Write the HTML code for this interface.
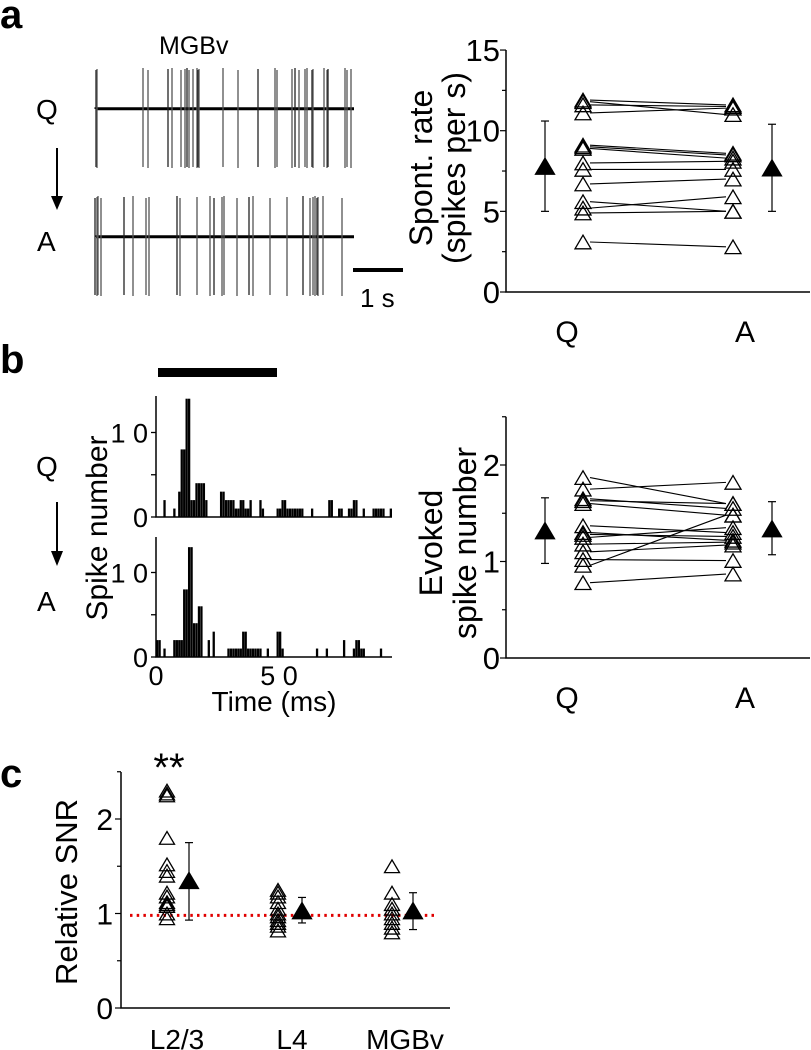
<!DOCTYPE html>
<html><head><meta charset="utf-8"><style>
body{margin:0;background:#fff}
svg{display:block;font-family:"Liberation Sans",Arial,sans-serif}
</style></head><body>
<svg id="fig" width="811" height="1050" viewBox="0 0 811 1050">
<text x="0" y="28" font-size="40" font-weight="bold">a</text>
<text x="0" y="373" font-size="40" font-weight="bold">b</text>
<text x="0" y="787" font-size="40" font-weight="bold">c</text>
<text x="159" y="54" font-size="25">MGBv</text>
<text x="36" y="119" font-size="28">Q</text>
<text x="37" y="251" font-size="28">A</text>
<line x1="57" y1="148" x2="57" y2="200" stroke="#000" stroke-width="2"/>
<polygon points="51,196 63,196 57,210" fill="#000"/>
<line x1="353" y1="270" x2="403" y2="270" stroke="#000" stroke-width="4"/>
<text x="360" y="307" font-size="26">1 s</text>
<text x="36" y="476" font-size="28">Q</text>
<text x="37" y="611" font-size="28">A</text>
<line x1="57" y1="502" x2="57" y2="555" stroke="#000" stroke-width="2"/>
<polygon points="51,551 63,551 57,566" fill="#000"/>
<rect x="158" y="368" width="119" height="9" fill="#000"/>
<g id="g"></g>
</svg>
<script>
// ===== data =====
const qSpikes=[96,97,143,148,168,172,181,185,187,189,193,197,198,199,223,238,258,275,277,292,295,299,305,307,312,313,324,327,328,345,347,351];
const aSpikes=[95,97,98,101,124,133,146,149,177,180,197,210,214,222,224,237,249,253,270,287,303,310,313,315,317,318,323,342];
const psthQms=[3,7,9,10,11,12,13,14,15,16,17,18,19,20,26,27,28,29,30,31,32,33,34,35,36,37,38,42,43,49,50,51,52,53,54,55,56,57,58,59,63,70,71,74,75,78,79,80,81,84,88,89,90,91,92,95];
const psthQcounts=[2,1,3,8,8,14,14,2,2,4,4,4,4,2,3,3,2,2,2,2,1,1,2,2,1,1,2,2,1,1,1,2,2,1,1,1,1,1,1,1,1,2,2,1,1,1,1,2,2,1,1,1,1,1,1,1];
const psthAms=[0,1,3,7,8,9,10,11,12,13,14,15,16,17,18,21,23,29,30,31,32,33,34,35,36,37,38,39,40,41,42,45,49,50,51,65,69,76,80,81,82,83,84,91];
const psthAcounts=[2,2,1,2,2,2,2,8,8,13,13,4,4,6,6,2,3,1,1,1,1,1,1,3,3,1,1,1,1,1,1,1,3,3,1,1,1,2,1,2,2,1,1,1];
const spontQ=[11.9,11.8,11.6,11.1,9.1,9.0,8.9,8.0,7.6,6.7,5.6,5.2,4.9,3.1];
const spontA=[11.6,11.0,11.5,11.4,8.6,8.5,8.3,8.1,7.6,7.0,5.0,5.9,5.0,2.8];
const spontMean=[7.8,7.7];
const spontErrLo=[5.0,5.0];
const spontErrHi=[10.6,10.4];
const evokedQ=[1.87,1.75,1.65,1.63,1.6,1.37,1.3,1.28,1.25,1.18,1.1,0.96,1.02,0.78];
const evokedA=[1.6,1.82,1.55,1.6,1.48,1.3,1.22,1.26,1.35,1.2,1.17,1.48,1.01,0.87];
const evokedMean=[1.32,1.34];
const evokedErrLo=[0.98,1.07];
const evokedErrHi=[1.66,1.62];
const snrGroups=["L2/3","L4","MGBv"];
const snrL23=[2.3,2.27,2.25,1.8,1.52,1.45,1.4,1.22,1.18,1.12,1.1,1.08,1.0,0.95];
const snrL4=[1.25,1.22,1.18,1.12,1.05,1.0,0.97,0.93,0.9,0.87,0.82];
const snrMGBv=[1.5,1.22,1.1,1.05,1.0,0.95,0.9,0.85,0.8];
const snrMean=[1.35,1.03,1.03];
const snrErrLo=[0.93,0.9,0.83];
const snrErrHi=[1.75,1.17,1.22];
const spontTicks=["0","5","10","15"];
const evokedTicks=["0","1","2"];
const snrTicks=["0","1","2"];
const psthTicks=["0","1 0"];
const timeTicks=["0","5 0"];
const snrRef=0.98;
// ===== drawing =====
const NS="http://www.w3.org/2000/svg";
const G=document.getElementById('g');
function el(t,a,p){const e=document.createElementNS(NS,t);for(const k in a)e.setAttribute(k,a[k]);(p||G).appendChild(e);return e;}
function txt(x,y,s,size,anchor,rot){const e=el('text',{x:x,y:y,'font-size':size,'text-anchor':anchor||'middle'});if(rot)e.setAttribute('transform','rotate(-90 '+x+' '+y+')');e.textContent=s;return e;}
function tri(cx,cy,w,fill){const h=w*0.85;return el('polygon',{points:(cx-w/2)+','+(cy+h/2)+' '+(cx+w/2)+','+(cy+h/2)+' '+cx+','+(cy-h/2),fill:fill?'#000':'#fff','fill-opacity':fill?1:0,stroke:'#000','stroke-width':1.3});}
function errbar(x,ylo,yhi){el('line',{x1:x,y1:ylo,x2:x,y2:yhi,stroke:'#000','stroke-width':1.2});el('line',{x1:x-4,y1:ylo,x2:x+4,y2:ylo,stroke:'#000','stroke-width':1.2});el('line',{x1:x-4,y1:yhi,x2:x+4,y2:yhi,stroke:'#000','stroke-width':1.2});}

// traces
function trace(sp,base,name){
  let d='M96,'+base;for(let x=96;x<=355;x+=3){d+=' L'+x+','+(base+((x*37)%3-1)*0.3);}
  const p=el('path',{d:d,stroke:'#000','stroke-width':3,fill:'none'});
  
  
  sp.forEach((x,i)=>{const l=el('line',{x1:x,y1:base-39-(i%3),x2:x,y2:base+58+(i%2),stroke:i%4==0?'#222':'#555','stroke-width':1.3});
    
    });
}
trace(qSpikes,109,'trace-q');trace(aSpikes,237,'trace-a');

// PSTH
function psth(ms,counts,base,top,name){
  const xs=v=>156+v*2.46, ys=v=>base-v*8.45;
  const ax=el('path',{d:'M156,'+top+' L156,'+base+' L392,'+base,stroke:'#000','stroke-width':1.5,fill:'none'});
  
  
  [0,5,10].forEach(v=>el('line',{x1:151,y1:ys(v),x2:156,y2:ys(v),stroke:'#000','stroke-width':1.3}));
  txt(148,ys(0)+10,psthTicks[0],27,'end');txt(148,ys(10)+10,psthTicks[1],27,'end');
  ms.forEach((m,i)=>{const r=el('rect',{x:xs(m),y:ys(counts[i]),width:2.3,height:counts[i]*8.45,fill:'#000'});
    
    });
}
psth(psthQms,psthQcounts,517,396,'psth-q');
psth(psthAms,psthAcounts,657,537,'psth-a');
txt(156,685,timeTicks[0],27);txt(279,685,timeTicks[1],27);
txt(274,711,'Time (ms)',28);
txt(107,528,'Spike number',30,'middle',true);

// paired plots
function paired(qv,av,mean,lo,hi,y0,scale,max,ticks,tickStep,name){
  const ys=v=>y0-v*scale;
  const ax=el('path',{d:'M506,'+ys(max)+' L506,'+y0+' L810,'+y0,stroke:'#000','stroke-width':1.5,fill:'none'});
  
  
  for(let v=0;v<=max+1e-6;v+=tickStep/2){const maj=Math.abs(v/tickStep-Math.round(v/tickStep))<1e-6;el('line',{x1:maj?500:502,y1:ys(v),x2:506,y2:ys(v),stroke:'#000','stroke-width':1.2});}
  ticks.forEach((t,i)=>txt(500,ys(i*tickStep)+11,t,31,'end'));
  qv.forEach((q,i)=>{const l=el('line',{x1:590,y1:ys(q),x2:726,y2:ys(av[i]),stroke:'#000','stroke-width':1.1});
    
    });
  qv.forEach(q=>{const t=tri(583,ys(q),16,false);});
  av.forEach(a=>{const t=tri(733,ys(a),16,false);});
  [545,772].forEach((x,i)=>{errbar(x,ys(lo[i]),ys(hi[i]));const t=tri(x,ys(mean[i]),19,true);});
}
paired(spontQ,spontA,spontMean,spontErrLo,spontErrHi,292,16.13,15,spontTicks,5,'spont');
txt(567,342,'Q',30);txt(745,342,'A',30);
txt(432,168,'Spont. rate',32,'middle',true);txt(465,168,'(spikes per s)',32,'middle',true);
paired(evokedQ,evokedA,evokedMean,evokedErrLo,evokedErrHi,658,96.5,2.5,evokedTicks,1,'evoked');
txt(567,708,'Q',30);txt(745,708,'A',30);
txt(442,543,'Evoked',32,'middle',true);txt(476,543,'spike number',32,'middle',true);

// panel c
const ysc=v=>1008-v*94.5;
const cax=el('path',{d:'M121,772 L121,1008 L450,1008',stroke:'#000','stroke-width':1.5,fill:'none'});


for(let v=0;v<=2.5;v+=0.5){const maj=Math.abs(v-Math.round(v))<1e-6;el('line',{x1:maj?115:117,y1:ysc(v),x2:121,y2:ysc(v),stroke:'#000','stroke-width':1.2});}
snrTicks.forEach((t,i)=>txt(113,ysc(i)+11,t,30,'end'));
const ref=el('line',{x1:130,y1:ysc(snrRef),x2:437,y2:ysc(snrRef),stroke:'#e00000','stroke-width':3,'stroke-dasharray':'2.5 4.2'});


const openX=[167,278,392], meanX=[189,302,413], labX=[177,292,405];
[snrL23,snrL4,snrMGBv].forEach((arr,g)=>{
  arr.forEach(v=>{const t=tri(openX[g],ysc(v),15,false);});
  errbar(meanX[g],ysc(snrErrLo[g]),ysc(snrErrHi[g]));
  const m=tri(meanX[g],ysc(snrMean[g]),19,true);
  
  
  const l=txt(labX[g],1049,snrGroups[g],28);
  
  
});
const st=txt(169,781,'**',40);


txt(77,892,'Relative SNR',31,'middle',true);
</script>
</body></html>
